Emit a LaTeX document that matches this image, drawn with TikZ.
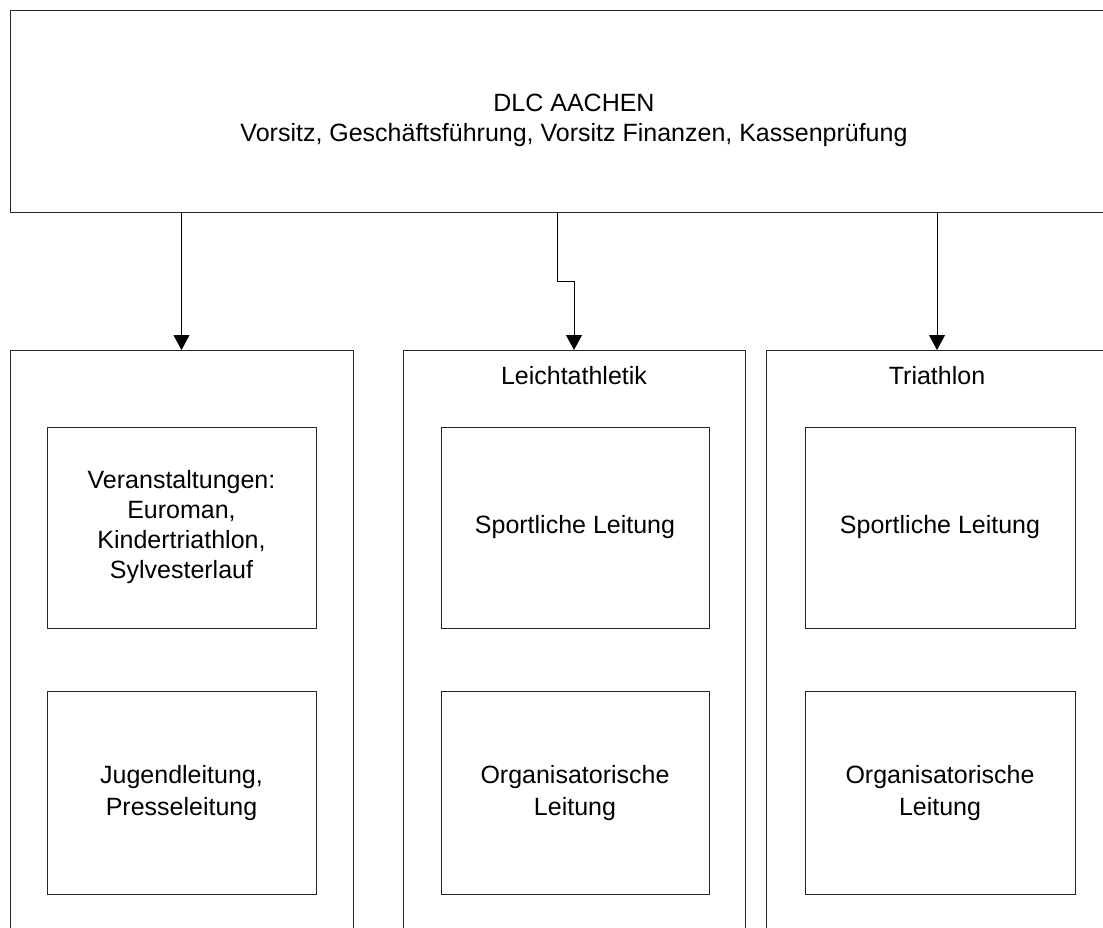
\documentclass[tikz,border=0pt]{standalone}
\usepackage{fontspec}
\setmainfont{Liberation Sans}
\usetikzlibrary{arrows.meta}
\tikzset{
  box/.style={draw=black!85, line width=1pt, fill=white, inner sep=0pt, align=center},
  txt/.style={inner sep=0pt, align=center, font=\fontsize{25}{30}\selectfont},
  txtb/.style={inner sep=0pt, align=center, font=\fontsize{25}{31.5}\selectfont},
  arr/.style={draw=black, line width=1pt, -{Triangle[width=16pt,length=15pt]}},
}
\begin{document}
\begin{tikzpicture}[x=1pt,y=-1pt]
\useasboundingbox (0,0) rectangle (1103,927);
\fill[white] (0,0) rectangle (1103,927);
\clip (0,0) rectangle (1103,927);
% top box
\node[box, minimum width=1128pt, minimum height=202pt] (top) at (574,111) {};
\node[txt] (toptext) at (574,120) {DLC AACHEN\\Vorsitz, Geschäftsführung, Vorsitz Finanzen, Kassenprüfung};
% columns
\node[box, anchor=north, minimum width=343pt, minimum height=700pt] (c1) at (181.5,350) {};
\node[box, anchor=north, minimum width=342pt, minimum height=700pt] (c2) at (574,350) {};
\node[box, anchor=north, minimum width=342pt, minimum height=700pt] (c3) at (937,350) {};
\node[txt] (h2) at (574,376) {Leichtathletik};
\node[txt] (h3) at (937,376) {Triathlon};
% inner boxes
\node[box, txt, minimum width=269pt, minimum height=201pt] (a1) at (181.5,527.5) {Veranstaltungen:\\Euroman,\\Kindertriathlon,\\Sylvesterlauf};
\node[box, txtb, minimum width=269pt, minimum height=203pt] (a2) at (181.5,793) {Jugendleitung,\\Presseleitung};
\node[box, txt, minimum width=268pt, minimum height=201pt] (b1) at (575,527.5) {Sportliche Leitung};
\node[box, txtb, minimum width=268pt, minimum height=203pt] (b2) at (575,793) {Organisatorische\\Leitung};
\node[box, txt, minimum width=270pt, minimum height=201pt] (d1) at (940,527.5) {Sportliche Leitung};
\node[box, txtb, minimum width=270pt, minimum height=203pt] (d2) at (940,793) {Organisatorische\\Leitung};
% connectors
\draw[arr] (top.south -| c1.north) -- (c1.north);
\draw[arr] ([xshift=-17pt]top.south -| c2.north) |- ([yshift=69pt]c2.north) -- (c2.north);
\draw[arr] (top.south -| c3.north) -- (c3.north);
\end{tikzpicture}
\end{document}
